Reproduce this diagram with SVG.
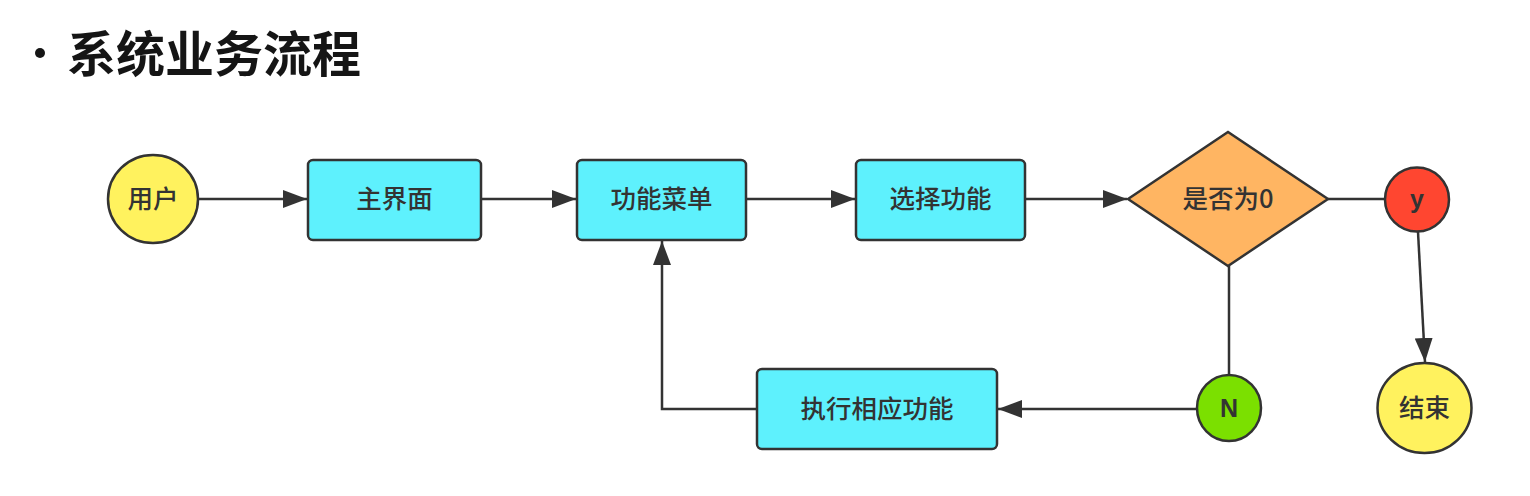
<svg xmlns="http://www.w3.org/2000/svg" width="1530" height="496" viewBox="0 0 1530 496">
<style>
.bg{fill:#ffffff}
.title{font-family:"Noto Sans CJK SC","Noto Sans",sans-serif;font-size:49px;font-weight:700;fill:#151515}
.lbl{font-family:"Noto Sans CJK SC","Noto Sans",sans-serif;font-size:25.5px;font-weight:500;fill:#333333;text-anchor:middle}
.lat{font-family:"Liberation Sans","Noto Sans",sans-serif;font-size:25px;font-weight:700;fill:#333333;text-anchor:middle}
.nd{stroke:#333333;stroke-width:2.5}
.box{fill:#5ef1fd}
.yel{fill:#fff25e}
.org{fill:#ffb562}
.red{fill:#ff4630}
.grn{fill:#7be000}
.conn{fill:none;stroke:#333333;stroke-width:2.5}
</style>
<defs>
<marker id="arr" markerUnits="userSpaceOnUse" markerWidth="25" markerHeight="20" refX="24" refY="10" orient="auto">
<path d="M0,1 L24,10 L0,19 Z" fill="#333333"/>
</marker>
</defs>
<rect class="bg" x="0" y="0" width="1530" height="496"/>
<g id="title">
<circle cx="40" cy="53" r="5" fill="#151515"/>
<text class="title" x="67" y="72">系统业务流程</text>
</g>
<g id="connectors">
<line class="conn" x1="199" y1="199" x2="307" y2="199" marker-end="url(#arr)"/>
<line class="conn" x1="481" y1="199" x2="576" y2="199" marker-end="url(#arr)"/>
<line class="conn" x1="746" y1="199" x2="855" y2="199" marker-end="url(#arr)"/>
<line class="conn" x1="1025" y1="199" x2="1127" y2="199" marker-end="url(#arr)"/>
<line class="conn" x1="1328" y1="199" x2="1385" y2="199"/>
<line class="conn" x1="1418" y1="232" x2="1425" y2="362" marker-end="url(#arr)"/>
<line class="conn" x1="1229" y1="266" x2="1229" y2="376"/>
<line class="conn" x1="1197" y1="409" x2="998" y2="409" marker-end="url(#arr)"/>
<polyline class="conn" points="757,409 662,409 662,241" marker-end="url(#arr)"/>
</g>
<g id="user">
<ellipse class="nd yel" cx="153" cy="199" rx="45" ry="44"/>
<text class="lbl" x="153" y="208">用户</text>
</g>
<g id="main">
<rect class="nd box" x="308" y="160" width="173" height="80" rx="5"/>
<text class="lbl" x="394.5" y="208">主界面</text>
</g>
<g id="menu">
<rect class="nd box" x="577" y="160" width="169" height="80" rx="5"/>
<text class="lbl" x="661.5" y="208">功能菜单</text>
</g>
<g id="select">
<rect class="nd box" x="856" y="160" width="169" height="80" rx="5"/>
<text class="lbl" x="940.5" y="208">选择功能</text>
</g>
<g id="decision">
<polygon class="nd org" points="1128,199 1228,132 1328,199 1228,266"/>
<text class="lbl" x="1228" y="208">是否为0</text>
</g>
<g id="yes">
<circle class="nd red" cx="1417" cy="199.5" r="32"/>
<text class="lat" x="1417" y="208">y</text>
</g>
<g id="end">
<ellipse class="nd yel" cx="1424.5" cy="408" rx="47" ry="45"/>
<text class="lbl" x="1424.5" y="417">结束</text>
</g>
<g id="no">
<ellipse class="nd grn" cx="1229" cy="408" rx="32" ry="33"/>
<text class="lat" x="1229" y="417">N</text>
</g>
<g id="execute">
<rect class="nd box" x="757" y="369" width="240" height="80" rx="5"/>
<text class="lbl" x="877" y="418">执行相应功能</text>
</g>
</svg>
